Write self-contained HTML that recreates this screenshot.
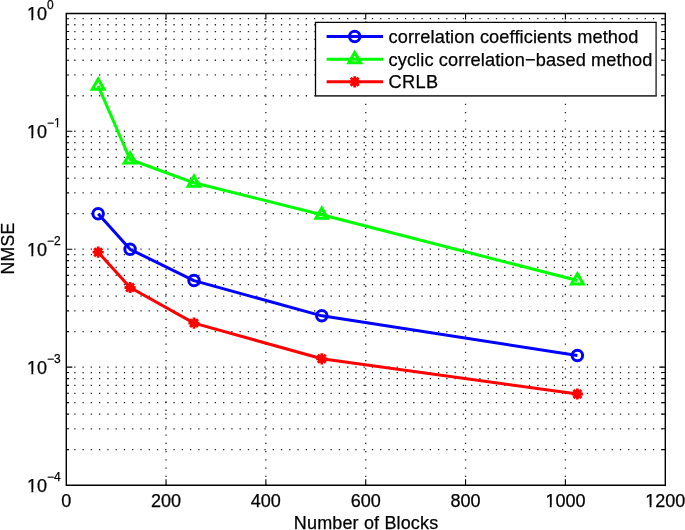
<!DOCTYPE html>
<html><head><meta charset="utf-8"><style>html,body{margin:0;padding:0;background:#fff;}body{width:685px;height:530px;position:relative;overflow:hidden;font-family:"Liberation Sans",sans-serif;}</style></head>
<body>
<svg width="685" height="530" viewBox="0 0 685 530" style="position:absolute;left:0;top:0;will-change:transform"><g stroke="#262626" stroke-width="1.3" stroke-dasharray="1.3 6.9675" fill="none"><line x1="74.20" y1="449.59" x2="665.24" y2="449.59"/><line x1="74.20" y1="428.82" x2="665.24" y2="428.82"/><line x1="74.20" y1="414.09" x2="665.24" y2="414.09"/><line x1="74.20" y1="402.66" x2="665.24" y2="402.66"/><line x1="74.20" y1="393.32" x2="665.24" y2="393.32"/><line x1="74.20" y1="385.42" x2="665.24" y2="385.42"/><line x1="74.20" y1="378.58" x2="665.24" y2="378.58"/><line x1="74.20" y1="372.55" x2="665.24" y2="372.55"/><line x1="74.20" y1="367.15" x2="665.24" y2="367.15"/><line x1="74.20" y1="331.64" x2="665.24" y2="331.64"/><line x1="74.20" y1="310.87" x2="665.24" y2="310.87"/><line x1="74.20" y1="296.14" x2="665.24" y2="296.14"/><line x1="74.20" y1="284.71" x2="665.24" y2="284.71"/><line x1="74.20" y1="275.37" x2="665.24" y2="275.37"/><line x1="74.20" y1="267.47" x2="665.24" y2="267.47"/><line x1="74.20" y1="260.63" x2="665.24" y2="260.63"/><line x1="74.20" y1="254.60" x2="665.24" y2="254.60"/><line x1="74.20" y1="249.20" x2="665.24" y2="249.20"/><line x1="74.20" y1="213.69" x2="665.24" y2="213.69"/><line x1="74.20" y1="192.92" x2="665.24" y2="192.92"/><line x1="74.20" y1="178.19" x2="665.24" y2="178.19"/><line x1="74.20" y1="166.76" x2="665.24" y2="166.76"/><line x1="74.20" y1="157.42" x2="665.24" y2="157.42"/><line x1="74.20" y1="149.52" x2="665.24" y2="149.52"/><line x1="74.20" y1="142.68" x2="665.24" y2="142.68"/><line x1="74.20" y1="136.65" x2="665.24" y2="136.65"/><line x1="74.20" y1="131.25" x2="665.24" y2="131.25"/><line x1="74.20" y1="95.74" x2="665.24" y2="95.74"/><line x1="74.20" y1="74.97" x2="665.24" y2="74.97"/><line x1="74.20" y1="60.24" x2="665.24" y2="60.24"/><line x1="74.20" y1="48.81" x2="665.24" y2="48.81"/><line x1="74.20" y1="39.47" x2="665.24" y2="39.47"/><line x1="74.20" y1="31.57" x2="665.24" y2="31.57"/><line x1="74.20" y1="24.73" x2="665.24" y2="24.73"/><line x1="74.20" y1="18.70" x2="665.24" y2="18.70"/></g><g stroke="#262626" stroke-width="1.3" stroke-dasharray="1.3 6.9675" fill="none"><line x1="166.04" y1="21.02" x2="166.04" y2="485.10"/><line x1="265.88" y1="21.02" x2="265.88" y2="485.10"/><line x1="365.72" y1="21.02" x2="365.72" y2="485.10"/><line x1="465.56" y1="21.02" x2="465.56" y2="485.10"/><line x1="565.40" y1="21.02" x2="565.40" y2="485.10"/></g><path d="M166.04 485.20v-6M166.04 13.45v6M265.88 485.20v-6M265.88 13.45v6M365.72 485.20v-6M365.72 13.45v6M465.56 485.20v-6M465.56 13.45v6M565.40 485.20v-6M565.40 13.45v6M66.30 449.59h2.8M665.30 449.59h-3.6M66.30 428.82h2.8M665.30 428.82h-3.6M66.30 414.09h2.8M665.30 414.09h-3.6M66.30 402.66h2.8M665.30 402.66h-3.6M66.30 393.32h2.8M665.30 393.32h-3.6M66.30 385.42h2.8M665.30 385.42h-3.6M66.30 378.58h2.8M665.30 378.58h-3.6M66.30 372.55h2.8M665.30 372.55h-3.6M66.30 367.15h6M665.30 367.15h-6M66.30 331.64h2.8M665.30 331.64h-3.6M66.30 310.87h2.8M665.30 310.87h-3.6M66.30 296.14h2.8M665.30 296.14h-3.6M66.30 284.71h2.8M665.30 284.71h-3.6M66.30 275.37h2.8M665.30 275.37h-3.6M66.30 267.47h2.8M665.30 267.47h-3.6M66.30 260.63h2.8M665.30 260.63h-3.6M66.30 254.60h2.8M665.30 254.60h-3.6M66.30 249.20h6M665.30 249.20h-6M66.30 213.69h2.8M665.30 213.69h-3.6M66.30 192.92h2.8M665.30 192.92h-3.6M66.30 178.19h2.8M665.30 178.19h-3.6M66.30 166.76h2.8M665.30 166.76h-3.6M66.30 157.42h2.8M665.30 157.42h-3.6M66.30 149.52h2.8M665.30 149.52h-3.6M66.30 142.68h2.8M665.30 142.68h-3.6M66.30 136.65h2.8M665.30 136.65h-3.6M66.30 131.25h6M665.30 131.25h-6M66.30 95.74h2.8M665.30 95.74h-3.6M66.30 74.97h2.8M665.30 74.97h-3.6M66.30 60.24h2.8M665.30 60.24h-3.6M66.30 48.81h2.8M665.30 48.81h-3.6M66.30 39.47h2.8M665.30 39.47h-3.6M66.30 31.57h2.8M665.30 31.57h-3.6M66.30 24.73h2.8M665.30 24.73h-3.6M66.30 18.70h2.8M665.30 18.70h-3.6" stroke="#000" stroke-width="1.1" fill="none"/><path d="M66.3 13.45H665.3M66.3 485.2H665.3M66.3 13.45V485.2M665.3 13.45V485.2" stroke="#000" stroke-width="1.4" fill="none" stroke-linecap="square"/><polyline points="98.15,85.90 130.10,159.50 194.00,182.80 321.79,214.80 577.38,280.50" stroke="#00ff00" stroke-width="3" fill="none" stroke-linejoin="round"/><polyline points="98.15,213.70 130.10,249.30 194.00,280.60 321.79,315.85 577.38,355.40" stroke="#0000ff" stroke-width="3" fill="none" stroke-linejoin="round"/><polyline points="98.15,252.20 130.10,287.50 194.00,323.10 321.79,358.80 577.38,394.00" stroke="#ff0000" stroke-width="3" fill="none" stroke-linejoin="round"/><circle cx="98.15" cy="213.70" r="5.25" stroke="#0000ff" stroke-width="3" fill="none"/><circle cx="130.10" cy="249.30" r="5.25" stroke="#0000ff" stroke-width="3" fill="none"/><circle cx="194.00" cy="280.60" r="5.25" stroke="#0000ff" stroke-width="3" fill="none"/><circle cx="321.79" cy="315.85" r="5.25" stroke="#0000ff" stroke-width="3" fill="none"/><circle cx="577.38" cy="355.40" r="5.25" stroke="#0000ff" stroke-width="3" fill="none"/><path d="M98.15 79.10L104.04 89.30L92.26 89.30Z" stroke="#00ff00" stroke-width="3" fill="none" stroke-linejoin="miter"/><path d="M130.10 152.70L135.99 162.90L124.21 162.90Z" stroke="#00ff00" stroke-width="3" fill="none" stroke-linejoin="miter"/><path d="M194.00 176.00L199.88 186.20L188.11 186.20Z" stroke="#00ff00" stroke-width="3" fill="none" stroke-linejoin="miter"/><path d="M321.79 208.00L327.68 218.20L315.90 218.20Z" stroke="#00ff00" stroke-width="3" fill="none" stroke-linejoin="miter"/><path d="M577.38 273.70L583.27 283.90L571.49 283.90Z" stroke="#00ff00" stroke-width="3" fill="none" stroke-linejoin="miter"/><path d="M92.55 252.20L103.75 252.20M94.19 248.24L102.11 256.16M98.15 246.60L98.15 257.80M102.11 248.24L94.19 256.16" stroke="#ff0000" stroke-width="2.8" fill="none"/><circle cx="98.15" cy="252.20" r="3.9" fill="#ff0000"/><path d="M124.50 287.50L135.70 287.50M126.14 283.54L134.06 291.46M130.10 281.90L130.10 293.10M134.06 283.54L126.14 291.46" stroke="#ff0000" stroke-width="2.8" fill="none"/><circle cx="130.10" cy="287.50" r="3.9" fill="#ff0000"/><path d="M188.40 323.10L199.60 323.10M190.04 319.14L197.95 327.06M194.00 317.50L194.00 328.70M197.95 319.14L190.04 327.06" stroke="#ff0000" stroke-width="2.8" fill="none"/><circle cx="194.00" cy="323.10" r="3.9" fill="#ff0000"/><path d="M316.19 358.80L327.39 358.80M317.83 354.84L325.75 362.76M321.79 353.20L321.79 364.40M325.75 354.84L317.83 362.76" stroke="#ff0000" stroke-width="2.8" fill="none"/><circle cx="321.79" cy="358.80" r="3.9" fill="#ff0000"/><path d="M571.78 394.00L582.98 394.00M573.42 390.04L581.34 397.96M577.38 388.40L577.38 399.60M581.34 390.04L573.42 397.96" stroke="#ff0000" stroke-width="2.8" fill="none"/><circle cx="577.38" cy="394.00" r="3.9" fill="#ff0000"/><rect x="314.7" y="21.599999999999998" width="342.20" height="75.20" fill="#fff"/><path d="M315.5 95.9V22.4H656.1" fill="none" stroke="#000" stroke-width="1.3" stroke-linecap="square"/><path d="M656.1 22.4V95.9" fill="none" stroke="#2a2a2a" stroke-width="1.4"/><path d="M315.5 95.9H656.8000000000001" fill="none" stroke="#3a3a3a" stroke-width="1.7"/><line x1="326.6" y1="36.6" x2="383.0" y2="36.6" stroke="#0000ff" stroke-width="3"/><circle cx="354.70" cy="36.60" r="5.25" stroke="#0000ff" stroke-width="3" fill="none"/><line x1="326.6" y1="59.3" x2="383.0" y2="59.3" stroke="#00ff00" stroke-width="3"/><path d="M354.70 52.50L360.59 62.70L348.81 62.70Z" stroke="#00ff00" stroke-width="3" fill="none" stroke-linejoin="miter"/><line x1="326.6" y1="81.8" x2="383.0" y2="81.8" stroke="#ff0000" stroke-width="3"/><path d="M349.10 81.80L360.30 81.80M350.74 77.84L358.66 85.76M354.70 76.20L354.70 87.40M358.66 77.84L350.74 85.76" stroke="#ff0000" stroke-width="2.8" fill="none"/><circle cx="354.70" cy="81.80" r="3.9" fill="#ff0000"/><g><text x="388.5" y="43.0" font-family="Liberation Sans, sans-serif" stroke="#000" stroke-width="0.25" font-size="18.2" textLength="249.9" fill="#000">correlation coefficients method</text><text x="388.5" y="65.8" font-family="Liberation Sans, sans-serif" stroke="#000" stroke-width="0.25" font-size="18.2" textLength="263.8" fill="#000">cyclic correlation−based method</text><text x="388.5" y="87.9" font-family="Liberation Sans, sans-serif" stroke="#000" stroke-width="0.25" font-size="18.2" textLength="49.7" fill="#000">CRLB</text><text x="66.20" y="507.3" font-family="Liberation Sans, sans-serif" stroke="#000" stroke-width="0.25" font-size="18" text-anchor="middle" fill="#000">0</text><text x="166.04" y="507.3" font-family="Liberation Sans, sans-serif" stroke="#000" stroke-width="0.25" font-size="18" text-anchor="middle" fill="#000">200</text><text x="265.88" y="507.3" font-family="Liberation Sans, sans-serif" stroke="#000" stroke-width="0.25" font-size="18" text-anchor="middle" fill="#000">400</text><text x="365.72" y="507.3" font-family="Liberation Sans, sans-serif" stroke="#000" stroke-width="0.25" font-size="18" text-anchor="middle" fill="#000">600</text><text x="465.56" y="507.3" font-family="Liberation Sans, sans-serif" stroke="#000" stroke-width="0.25" font-size="18" text-anchor="middle" fill="#000">800</text><text x="565.40" y="507.3" font-family="Liberation Sans, sans-serif" stroke="#000" stroke-width="0.25" font-size="18" text-anchor="middle" fill="#000">1000</text><text x="665.24" y="507.3" font-family="Liberation Sans, sans-serif" stroke="#000" stroke-width="0.25" font-size="18" text-anchor="middle" fill="#000">1200</text><text x="27.0" y="491.90" font-family="Liberation Sans, sans-serif" stroke="#000" stroke-width="0.25" font-size="18" fill="#000">10</text><text x="46.9" y="480.70" font-family="Liberation Sans, sans-serif" stroke="#000" stroke-width="0.25" font-size="12" fill="#000">−4</text><text x="27.0" y="373.95" font-family="Liberation Sans, sans-serif" stroke="#000" stroke-width="0.25" font-size="18" fill="#000">10</text><text x="46.9" y="362.75" font-family="Liberation Sans, sans-serif" stroke="#000" stroke-width="0.25" font-size="12" fill="#000">−3</text><text x="27.0" y="256.00" font-family="Liberation Sans, sans-serif" stroke="#000" stroke-width="0.25" font-size="18" fill="#000">10</text><text x="46.9" y="244.80" font-family="Liberation Sans, sans-serif" stroke="#000" stroke-width="0.25" font-size="12" fill="#000">−2</text><text x="27.0" y="138.05" font-family="Liberation Sans, sans-serif" stroke="#000" stroke-width="0.25" font-size="18" fill="#000">10</text><text x="46.9" y="126.85" font-family="Liberation Sans, sans-serif" stroke="#000" stroke-width="0.25" font-size="12" fill="#000">−1</text><text x="27.0" y="20.10" font-family="Liberation Sans, sans-serif" stroke="#000" stroke-width="0.25" font-size="18" fill="#000">10</text><text x="46.9" y="8.90" font-family="Liberation Sans, sans-serif" stroke="#000" stroke-width="0.25" font-size="12" fill="#000">0</text><text x="366.0" y="529.4" font-family="Liberation Sans, sans-serif" stroke="#000" stroke-width="0.25" font-size="18" text-anchor="middle" textLength="144.3" fill="#000">Number of Blocks</text><text transform="translate(14.2,248.6) rotate(-90)" x="0" y="0" font-family="Liberation Sans, sans-serif" stroke="#000" stroke-width="0.25" font-size="17.5" text-anchor="middle" textLength="51.8" fill="#000">NMSE</text></g><g fill="#fff"><rect x="27.72" y="489.56" width="3.69" height="3.24"/><rect x="33.24" y="489.56" width="3.67" height="3.24"/><rect x="27.72" y="371.61" width="3.69" height="3.24"/><rect x="33.24" y="371.61" width="3.67" height="3.24"/><rect x="27.72" y="253.66" width="3.69" height="3.24"/><rect x="33.24" y="253.66" width="3.67" height="3.24"/><rect x="27.72" y="135.71" width="3.69" height="3.24"/><rect x="33.24" y="135.71" width="3.67" height="3.24"/><rect x="54.19" y="124.95" width="2.62" height="2.80"/><rect x="58.11" y="124.95" width="2.64" height="2.80"/><rect x="27.72" y="17.76" width="3.69" height="3.24"/><rect x="33.24" y="17.76" width="3.67" height="3.24"/><rect x="546.10" y="504.96" width="3.69" height="3.24"/><rect x="551.62" y="504.96" width="3.67" height="3.24"/><rect x="645.94" y="504.96" width="3.69" height="3.24"/><rect x="651.46" y="504.96" width="3.67" height="3.24"/></g></svg>
</body></html>
